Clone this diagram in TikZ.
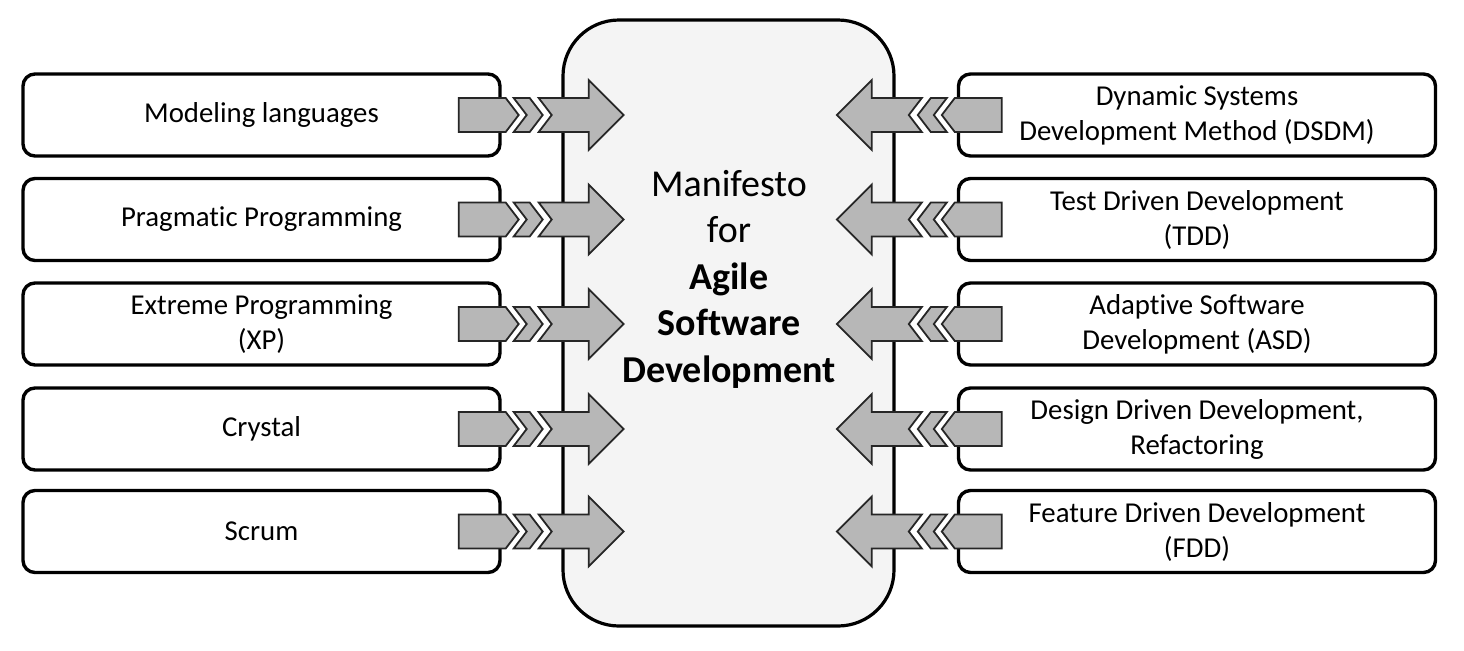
\documentclass[tikz,border=0pt]{standalone}
\usepackage{fontspec}
\setmainfont{Carlito}[Ligatures=NoCommon]
\usetikzlibrary{positioning}
\definecolor{panel}{HTML}{F4F4F4}
\definecolor{shaft}{HTML}{B7B7B7}
\definecolor{edge}{HTML}{262626}

\begin{document}
\begin{tikzpicture}[
  x=0.5pt, y=-0.5pt,
  every node/.style={align=center},
  method/.style={draw, line width=1.7pt, rounded corners=6pt, minimum width=238.5pt,
                 minimum height=41pt, inner sep=0pt, fill=white,
                 font=\fontsize{14.4}{17.5}\selectfont},
  core/.style  ={draw, line width=1.6pt, rounded corners=28pt, minimum width=165.5pt,
                 minimum height=303pt, inner sep=0pt, fill=panel},
  title/.style ={font=\fontsize{19}{23.25}\selectfont, inner sep=0pt},
  piece/.style ={draw=edge, line width=0.9pt, fill=shaft, line join=miter},
  inarrow/.pic ={
    \draw[piece] (0,17) -- (47,17) -- (60,0) -- (47,-17) -- (0,-17) -- cycle;
    \draw[piece] (55,17) -- (71,17) -- (84,0) -- (71,-17) -- (55,-17) -- (68,0) -- cycle;
    \draw[piece] (80,17) -- (130,17) -- (130,35) -- (165,0) -- (130,-35) -- (130,-17)
                 -- (80,-17) -- (93,0) -- cycle;
  },
]
\useasboundingbox (0,0) rectangle (1464,650);

% methods feeding in from the left
\node[method] (m1) at (261.5,115) {Modeling languages};
\node[method] (m2) at (261.5,219.5) {Pragmatic Programming};
\node[method] (m3) at (261.5,324) {Extreme Programming\\(XP)};
\node[method] (m4) at (261.5,429) {Crystal};
\node[method] (m5) at (261.5,531.5) {Scrum};

% methods feeding in from the right
\node[method] (d1) at (1197,115) {Dynamic Systems\\Development Method (DSDM)};
\node[method] (d2) at (1197,219.5) {Test Driven Development\\(TDD)};
\node[method] (d3) at (1197,324) {Adaptive Software\\Development (ASD)};
\node[method] (d4) at (1197,429) {Design Driven Development,\\Refactoring};
\node[method] (d5) at (1197,531.5) {Feature Driven Development\\(FDD)};

% the manifesto
\node[core] (core) at (728.5,323) {};
\node[title] (manifesto) at (729,279)
  {Manifesto\\for\\\textbf{Agile}\\\textbf{Software}\\\textbf{Development}};

% arrows into the manifesto
\foreach \k in {1,...,5} {
  \pic at ([xshift=-21.5pt]m\k.east) {inarrow};
  \pic[xscale=-1] at ([xshift=22.5pt]d\k.west) {inarrow};
}

\end{tikzpicture}
\end{document}
